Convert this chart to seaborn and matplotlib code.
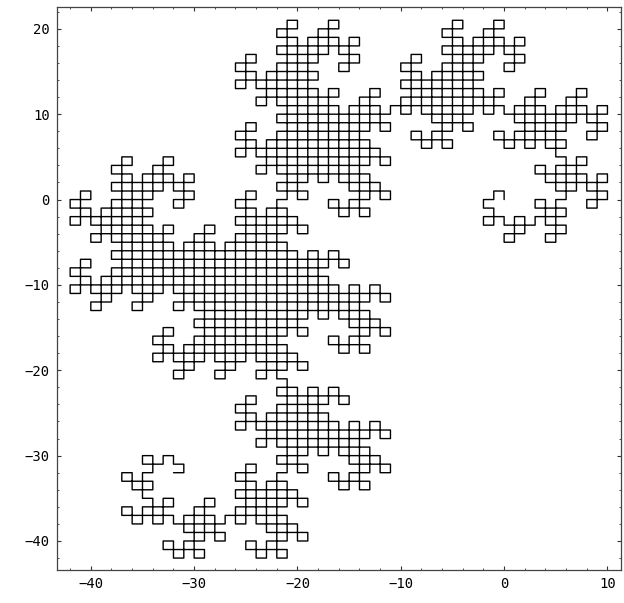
import numpy as np
import pandas as pd
import matplotlib
matplotlib.use("Agg")
import matplotlib.pyplot as plt
import seaborn as sns
from matplotlib.ticker import MultipleLocator

# Heighway dragon (paper-folding) curve description
ORDER = 11            # number of folds -> 2**ORDER unit steps
START = (0, 0)        # start point
START_HEADING = 1     # 0=east, 1=north, 2=west, 3=south
TURN_SIGN = 1         # +1: left-first chirality

x_ticks = [-40, -30, -20, -10, 0, 10]
y_ticks = [-40, -30, -20, -10, 0, 10, 20]

# build path from the folding rule
dirs = [(1, 0), (0, 1), (-1, 0), (0, -1)]
h = START_HEADING
px, py = [START[0]], [START[1]]
cx, cy = START
n = 2 ** ORDER
for k in range(1, n + 1):
    dx, dy = dirs[h % 4]
    cx += dx
    cy += dy
    px.append(cx)
    py.append(cy)
    if k < n:
        m = k
        while m % 2 == 0:
            m //= 2
        turn = 1 if m % 4 == 1 else -1
        h = (h + TURN_SIGN * turn) % 4

df = pd.DataFrame({"x": px, "y": py, "i": np.arange(len(px))})

sns.set_theme(style="white")
plt.rcParams["font.family"] = ["DejaVu Sans Mono", "DejaVu Sans"]

fig = plt.figure(figsize=(6.24, 6.03), dpi=100)
ax = fig.add_axes([0.0909, 0.0547, 0.9041, 0.9343])
sns.lineplot(data=df, x="x", y="y", sort=False, estimator=None,
             color="black", linewidth=1.0, ax=ax)

ax.set_xlim(-43.3, 11.3)
ax.set_ylim(-43.4, 22.6)
ax.set_xticks(x_ticks)
ax.set_yticks(y_ticks)
ax.xaxis.set_minor_locator(MultipleLocator(2))
ax.yaxis.set_minor_locator(MultipleLocator(2))
ax.tick_params(which="both", direction="in", top=True, right=True,
               bottom=True, left=True, labelsize=10, colors="#333333",
               labelcolor="black")
ax.tick_params(which="major", length=2.6, width=0.8, pad=5)
ax.tick_params(which="minor", length=1.5, width=0.6)
ax.set_xlabel("")
ax.set_ylabel("")
for s in ax.spines.values():
    s.set_color("#444444")
    s.set_linewidth(0.9)

fig.savefig("out.png", dpi=100)
